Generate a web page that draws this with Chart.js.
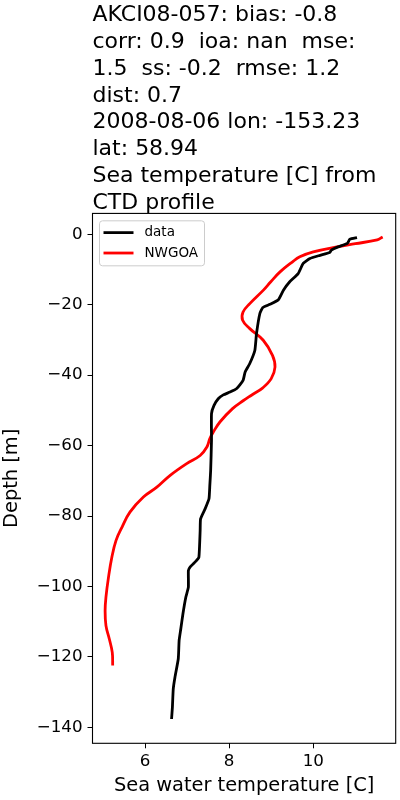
<!DOCTYPE html>
<html>
<head>
<meta charset="utf-8">
<script src="https://cdn.jsdelivr.net/npm/chart.js@4.4.0/dist/chart.umd.min.js"></script>
<style>
  html, body { margin: 0; padding: 0; background: #fff; }
  canvas { display: block; }
</style>
</head>
<body>
<canvas id="profileChart" width="400" height="800"></canvas>
<script>
// title block above the axes
const titleLines = [
  'AKCI08-057: bias: -0.8',
  'corr: 0.9  ioa: nan  mse:',
  '1.5  ss: -0.2  rmse: 1.2',
  'dist: 0.7',
  '2008-08-06 lon: -153.23',
  'lat: 58.94',
  'Sea temperature [C] from',
  'CTD profile'
];

// CTD cast (black)
const obsDepth = [-0.95, -1.4, -2.6, -3.6, -4.5, -5.2, -6.0, -6.9, -8.3, -11.2, -13.5, -15.9, -18.6, -19.9, -20.8, -22.5,
  -28.2, -33.0, -36.7, -39.1, -41.5, -43.8, -44.8, -45.6, -46.7, -48.6, -50.9, -58.5, -67.0, -71.3, -75.1, -77.9,
  -80.8, -84.1, -91.7, -92.8, -94.5, -95.5, -100.2, -103.0, -107.8, -112.0, -115.3, -120.5, -125.8, -129.1, -134.3, -137.6];
const obsTemp = [11.04, 10.87, 10.81, 10.59, 10.43, 10.39, 10.16, 9.92, 9.76, 9.64, 9.44, 9.29, 9.17, 8.97, 8.80, 8.73,
  8.65, 8.61, 8.49, 8.38, 8.33, 8.18, 8.02, 7.86, 7.74, 7.64, 7.58, 7.58, 7.56, 7.54, 7.52, 7.43,
  7.32, 7.31, 7.28, 7.21, 7.07, 7.03, 7.03, 6.97, 6.90, 6.85, 6.81, 6.79, 6.71, 6.67, 6.65, 6.63];

// NWGOA model profile (red)
const modelDepth = [-0.8, -1.6, -2.7, -3.5, -5.0, -6.4, -7.9, -10.7, -13.5, -15.8, -19.7, -22.1, -24.4, -26.8,
  -30.1, -34.4, -37.7, -41.0, -43.6, -45.7, -47.2, -49.5, -53.3, -56.2, -58.0, -60.4, -62.8, -65.1,
  -68.5, -71.8, -74.6, -78.9, -83.2, -86.9, -91.7, -97.4, -103.0, -106.8, -111.1, -114.9, -118.7, -122.4];
const modelTemp = [11.65, 11.52, 11.0, 10.6, 10.0, 9.68, 9.50, 9.21, 8.99, 8.82, 8.49, 8.33, 8.32, 8.49,
  8.81, 9.03, 9.09, 9.00, 8.80, 8.53, 8.34, 8.08, 7.78, 7.62, 7.54, 7.47, 7.31, 6.99,
  6.59, 6.28, 5.96, 5.64, 5.45, 5.31, 5.21, 5.13, 5.07, 5.05, 5.07, 5.15, 5.22, 5.23];

const seriesNames = ['data', 'NWGOA'];
const seriesColors = ['#000000', '#ff0000'];
const xTickValues = [6, 8, 10];
const yTickValues = [0, -20, -40, -60, -80, -100, -120, -140];

Chart.defaults.font.family = "'DejaVu Sans', sans-serif";
Chart.defaults.color = '#000';

function toPoints(temps, depths) {
    return temps.map((t, i) => ({ x: t, y: depths[i] }));
}

function minusSign(v) {
    return v < 0 ? '\u2212' + Math.abs(v) : String(v);
}

// matplotlib-like frame around the axes
const axesFrame = {
    id: 'axesFrame',
    afterDraw(chart) {
        const { ctx, chartArea: a } = chart;
        ctx.save();
        ctx.strokeStyle = '#000';
        ctx.lineWidth = 1.1;
        ctx.strokeRect(a.left, a.top, a.right - a.left, a.bottom - a.top);
        ctx.restore();
    }
};

// legend box in the upper left corner of the axes
const legendBox = {
    id: 'legendBox',
    afterDatasetsDraw(chart) {
        const { ctx, chartArea: a } = chart;
        const x0 = a.left + 7, y0 = a.top + 7.4;
        ctx.save();
        ctx.fillStyle = 'rgba(255,255,255,0.8)';
        ctx.strokeStyle = '#cccccc';
        ctx.lineWidth = 1;
        ctx.beginPath();
        ctx.roundRect(x0, y0, 105, 45, 3);
        ctx.fill();
        ctx.stroke();
        ctx.font = "13.5px 'DejaVu Sans'";
        ctx.textBaseline = 'middle';
        chart.data.datasets.forEach((ds, i) => {
            const y = y0 + 11.8 + i * 20.4;
            ctx.strokeStyle = ds.borderColor;
            ctx.lineWidth = ds.borderWidth;
            ctx.beginPath();
            ctx.moveTo(x0 + 4, y);
            ctx.lineTo(x0 + 34, y);
            ctx.stroke();
            ctx.fillStyle = '#000';
            ctx.fillText(ds.label, x0 + 45, y);
        });
        ctx.restore();
    }
};

const ctx = document.getElementById('profileChart').getContext('2d');

new Chart(ctx, {
    type: 'scatter',
    data: {
        datasets: [{
            label: seriesNames[0],
            data: toPoints(obsTemp, obsDepth),
            showLine: true,
            borderColor: seriesColors[0],
            borderWidth: 2.8,
            pointRadius: 0,
            tension: 0.15
        }, {
            label: seriesNames[1],
            data: toPoints(modelTemp, modelDepth),
            showLine: true,
            borderColor: seriesColors[1],
            borderWidth: 2.8,
            pointRadius: 0,
            tension: 0.4
        }]
    },
    options: {
        responsive: false,
        animation: false,
        layout: { padding: { top: 0, left: 0, right: 4.3, bottom: 0 } },
        plugins: {
            legend: { display: false },
            tooltip: { enabled: false },
            title: {
                display: true,
                text: titleLines,
                align: 'start',
                fullSize: false,
                color: '#000',
                font: { size: 22, weight: 'normal', lineHeight: 1.22 },
                padding: { top: 2, bottom: -3.3 }
            }
        },
        scales: {
            x: {
                type: 'linear',
                min: 4.75,
                max: 11.96,
                afterBuildTicks: (scale) => { scale.ticks = xTickValues.map(v => ({ value: v })); },
                afterFit: (scale) => { scale.height = 56.7; },
                grid: { drawOnChartArea: false, drawTicks: true, tickLength: 5, color: '#000' },
                border: { display: false },
                ticks: { padding: 3, font: { size: 16.7 }, color: '#000' },
                title: {
                    display: true,
                    text: 'Sea water temperature [C]',
                    font: { size: 19.4 },
                    color: '#000',
                    padding: { top: 0, bottom: 2 }
                }
            },
            y: {
                type: 'linear',
                min: -144.5,
                max: 5.9,
                afterBuildTicks: (scale) => { scale.ticks = yTickValues.map(v => ({ value: v })); },
                afterFit: (scale) => { scale.width = 92.5; },
                grid: { drawOnChartArea: false, drawTicks: true, tickLength: 5, color: '#000' },
                border: { display: false },
                ticks: { padding: 5, font: { size: 16.7 }, color: '#000', callback: (v) => minusSign(v) },
                title: {
                    display: true,
                    text: 'Depth [m]',
                    font: { size: 19.4 },
                    color: '#000',
                    padding: { top: 0, bottom: 0 }
                }
            }
        }
    },
    plugins: [axesFrame, legendBox]
});
</script>
</body>
</html>
